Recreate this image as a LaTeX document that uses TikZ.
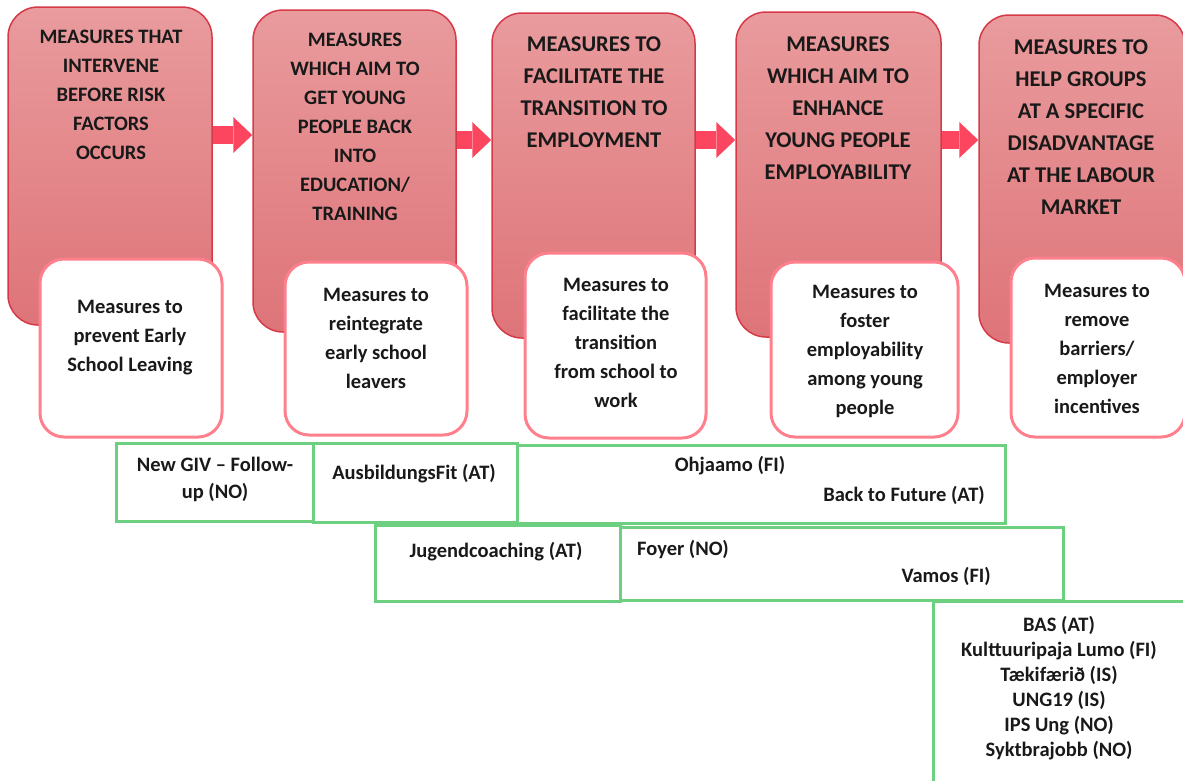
\documentclass[tikz,border=0pt]{standalone}
\usepackage{fontspec}
\setmainfont{Carlito}
\usepackage{tikz}
\usetikzlibrary{arrows.meta, positioning}
\definecolor{headtop}{RGB}{233,155,157}
\definecolor{headbot}{RGB}{222,116,121}
\definecolor{headline}{RGB}{214,58,72}
\definecolor{subline}{RGB}{255,128,140}
\definecolor{arrowred}{RGB}{252,70,96}
\definecolor{progline}{RGB}{108,208,128}
\tikzstyle{head}=[draw=headline,line width=1.5pt,rounded corners=30pt,top color=headtop,bottom color=headbot,inner sep=0pt]
\tikzstyle{sub}=[draw=subline,line width=3pt,fill=white,rounded corners=24pt,inner sep=0pt]
\tikzstyle{prog}=[draw=progline,line width=3pt,inner sep=0pt]
\tikzstyle{flow}=[->,draw=arrowred,line width=18pt]
\tikzstyle{every node}=[font=\bfseries\fontsize{20.5}{29}\selectfont,inner sep=0pt,text=black!90]
\tikzstyle{bigtext}=[align=center,font=\bfseries\fontsize{22.5}{32}\selectfont]
\tikzstyle{txt}=[align=center]

\begin{document}
\begin{tikzpicture}[x=1pt,y=-1pt,>={Triangle[length=19pt,width=36pt,line width=0pt]}]
    \clip (0,0) rectangle (1183,780);
    \node[head,minimum width=204pt,minimum height=318pt] (head1) at (110,166) {};
    \node[head,minimum width=203pt,minimum height=322pt] (head2) at (354.5,171) {};
    \node[head,minimum width=203pt,minimum height=325pt] (head3) at (593.5,175.5) {};
    \node[head,minimum width=205pt,minimum height=325pt] (head4) at (838.5,174.5) {};
    \node[head,minimum width=206pt,minimum height=328pt] (head5) at (1082,179) {};
    \node[txt] (title1) at (111,95) {MEASURES THAT\\INTERVENE\\BEFORE RISK\\FACTORS\\OCCURS};
    \node[txt] (title2) at (355,127) {MEASURES\\WHICH AIM TO\\GET YOUNG\\PEOPLE BACK\\INTO\\EDUCATION/\\TRAINING};
    \node[bigtext] (title3) at (594,92) {MEASURES TO\\FACILITATE THE\\TRANSITION TO\\EMPLOYMENT};
    \node[bigtext] (title4) at (838,108) {MEASURES\\WHICH AIM TO\\ENHANCE\\YOUNG PEOPLE\\EMPLOYABILITY};
    \node[bigtext] (title5) at (1081,127) {MEASURES TO\\HELP GROUPS\\AT A SPECIFIC\\DISADVANTAGE\\AT THE LABOUR\\MARKET};
    \coordinate (mid1) at (0,135);
    \coordinate (mid2) at (0,140);
    \draw[flow] (head1.east |- mid1) -- (head2.west |- mid1);
    \draw[flow] (head2.east |- mid2) -- (head3.west |- mid2);
    \draw[flow] (head3.east |- mid2) -- (head4.west |- mid2);
    \draw[flow] (head4.east |- mid2) -- (head5.west |- mid2);
    \node[sub,minimum width=182pt,minimum height=178pt] (sub1) at (131,348) {};
    \node[sub,minimum width=182pt,minimum height=173pt] (sub2) at (376,348.5) {};
    \node[sub,minimum width=181pt,minimum height=185pt] (sub3) at (615.5,345.5) {};
    \node[sub,minimum width=187pt,minimum height=175pt] (sub4) at (864.5,349.5) {};
    \node[sub,minimum width=174pt,minimum height=179pt] (sub5) at (1098,347.5) {};
    \node[txt] (aim1) at (130,338) {Measures to\\prevent Early\\School Leaving};
    \node[txt] (aim2) at (376,338.5) {Measures to\\reintegrate\\early school\\leavers};
    \node[txt] (aim3) at (616,343) {Measures to\\facilitate the\\transition\\from school to\\work};
    \node[txt] (aim4) at (865,351) {Measures to\\foster\\employability\\among young\\people};
    \node[txt] (aim5) at (1097,348.5) {Measures to\\remove\\barriers/\\employer\\incentives};
    \node[prog,minimum width=197pt,minimum height=78pt] (prog1) at (214.5,482) {};
    \node[prog,minimum width=204pt,minimum height=79pt] (prog2) at (415,482.5) {};
    \node[prog,minimum width=488pt,minimum height=78pt] (prog3) at (761,484) {};
    \node[prog,minimum width=245pt,minimum height=76pt] (prog4) at (497.5,563) {};
    \node[prog,minimum width=443pt,minimum height=73pt] (prog5) at (841.5,563.5) {};
    \node[prog,minimum width=267pt,minimum height=199pt] (prog6) at (1066.5,700.5) {};
    \node[txt,font=\bfseries\fontsize{20.5}{27}\selectfont] (newgiv) at (215,479.5) {New GIV -- Follow-\\up (NO)};
    \node (ausfit) at (414,474) {AusbildungsFit (AT)};
    \node (ohjaamo) at (730,466) {Ohjaamo (FI)};
    \node[anchor=east] (future) at (985,495) {Back to Future (AT)};
    \node (jugend) at (496,552) {Jugendcoaching (AT)};
    \node[anchor=west] (foyer) at (637,549) {Foyer (NO)};
    \node[anchor=east] (vamos) at (991,576) {Vamos (FI)};
    \node[txt,font=\bfseries\fontsize{20.5}{25}\selectfont] (others) at (1059,688.5) {BAS (AT)\\Kulttuuripaja Lumo (FI)\\Tækifærið (IS)\\UNG19 (IS)\\IPS Ung (NO)\\Syktbrajobb (NO)};
\end{tikzpicture}
\end{document}
